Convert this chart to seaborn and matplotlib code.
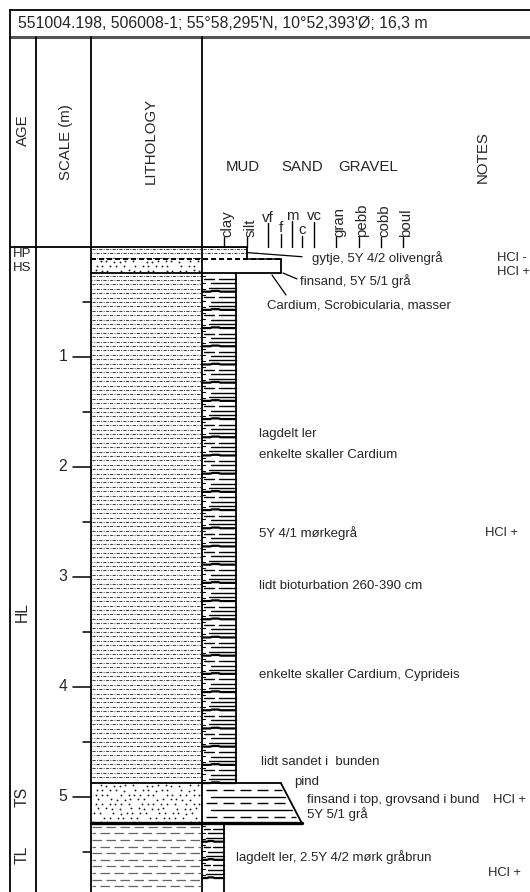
import numpy as np
import matplotlib
matplotlib.use("Agg")
import matplotlib.pyplot as plt
import seaborn as sns

sns.set_theme(style="white")
plt.rcParams["font.family"] = ["Liberation Sans", "DejaVu Sans"]
plt.rcParams["lines.scale_dashes"] = False

# ---------------------------------------------------------------- data
title = "551004.198, 506008-1; 55°58,295'N, 10°52,393'Ø; 16,3 m"

# grain-size classes and their tick positions across the log panel
grain_classes = ["clay", "silt", "vf", "f", "m", "c", "vc", "gran", "pebb", "cobb", "boul"]
grain_x = [224, 247, 268, 281, 292, 302, 314, 336, 359, 381, 403]
grain_rotated = [True, True, False, False, False, False, False, True, True, True, True]

# layers: top / base depth (m), lithology, grain size at top and base (class index)
layer_top = [0.00, 0.115, 0.245, 4.88, 5.245]
layer_base = [0.115, 0.245, 4.88, 5.245, 5.87]
layer_litho = ["gytje", "sand", "silty clay", "sand", "clay"]
layer_grain_top = [1.0, 3.0, 0.5, 3.0, 0.0]
layer_grain_base = [1.0, 3.0, 0.5, 5.0, 0.0]

# age units
age_labels = ["HP", "HS", "HL", "TS", "TL"]
age_depth = [0.068, 0.195, 3.32, 5.0, 5.53]
age_rotated = [False, False, True, True, True]

# depth scale
scale_major = [1, 2, 3, 4, 5]
scale_minor = [0.5, 1.5, 2.5, 3.5, 4.5, 5.5]

# descriptions (text, x, depth)
desc_text = ["gytje, 5Y 4/2 olivengrå", "finsand, 5Y 5/1 grå",
             "Cardium, Scrobicularia, masser", "lagdelt ler",
             "enkelte skaller Cardium", "5Y 4/1 mørkegrå",
             "lidt bioturbation 260-390 cm", "enkelte skaller Cardium, Cyprideis",
             "lidt sandet i  bunden", "pind", "finsand i top, grovsand i bund",
             "5Y 5/1 grå", "lagdelt ler, 2.5Y 4/2 mørk gråbrun"]
desc_x = [312, 300, 267, 259, 259, 259, 259, 259, 261, 294, 307, 307, 236]
desc_depth = [0.108, 0.31, 0.54, 1.70, 1.895, 2.605, 3.086, 3.895, 4.686,
              4.866, 5.032, 5.16, 5.55]

# leader lines (x0, depth0, x1, depth1)
leaders = [(248, 0.056, 302, 0.093), (283, 0.241, 297, 0.295), (272, 0.259, 286, 0.441)]

# notes column
notes_text = ["HCl -", "HCl +", "HCl +", "HCl +", "HCl +"]
notes_x = [497, 497, 485, 493, 488]
notes_depth = [0.105, 0.232, 2.605, 5.032, 5.695]

# ---------------------------------------------------------------- layout
W, H = 530, 892
TOP_LOG = 246.5
PX_PER_M = 110.0
COL_AGE, COL_SCALE, COL_LITH, COL_GRAIN = 10, 35.5, 91, 202
FS_HEAD = 10.8
FS_TITLE = 11.4
FS_TXT = 9.5
FS_GRAIN = 10.8
FS_NOTE = 9.4

fig = plt.figure(figsize=(W / 100, H / 100), dpi=100)
bg = fig.add_axes([0, 0, 1, 1])
bg.set_xlim(0, W)
bg.set_ylim(H, 0)
bg.axis("off")

log_frac = (H - TOP_LOG) / H
ax = fig.add_axes([0, 0, 1, log_frac])
dmax = (H - TOP_LOG) / PX_PER_M
ax.set_xlim(0, W)
ax.set_ylim(dmax, 0)
ax.axis("off")

K = "black"
# frame and title row
bg.plot([COL_AGE, W], [10, 10], color=K, lw=1.3)
bg.plot([COL_AGE, W], [36.5, 36.5], color="#555555", lw=2.2)
bg.plot([COL_AGE, COL_AGE], [10, H], color=K, lw=1.3)
for xc in (COL_SCALE, COL_LITH, COL_GRAIN):
    bg.plot([xc, xc], [36.5, H], color=K, lw=1.3)
bg.plot([COL_AGE, grain_x[1]], [TOP_LOG, TOP_LOG], color=K, lw=1.3)
bg.text(18, 23.5, title, fontsize=FS_TITLE, va="center", ha="left")

# column headers
bg.text(22.5, 130, "AGE", rotation=90, fontsize=FS_HEAD, ha="center", va="center")
bg.text(66, 142, "SCALE (m)", rotation=90, fontsize=FS_HEAD, ha="center", va="center")
bg.text(151, 141, "LITHOLOGY", rotation=90, fontsize=FS_HEAD, ha="center", va="center")
bg.text(483, 157, "NOTES", rotation=90, fontsize=FS_HEAD, ha="center", va="center")
for lab, xc in zip(["MUD", "SAND", "GRAVEL"], [242.5, 302, 368]):
    bg.text(xc, 167, lab, fontsize=FS_HEAD, ha="center", va="center")

# grain-size ticks
upright_y = {"vf": 217, "f": 228, "m": 215, "c": 230, "vc": 216}
for name, xg, rot in zip(grain_classes, grain_x, grain_rotated):
    if rot:
        bg.plot([xg, xg], [237, TOP_LOG], color=K, lw=1.0)
        bg.text(xg + 3.5, 237, name, rotation=90, fontsize=FS_GRAIN, ha="center", va="bottom")
    else:
        ty = upright_y[name]
        bg.plot([xg, xg], [ty + 6, TOP_LOG], color=K, lw=1.0)
        bg.text(xg, ty + 7.5, name, fontsize=FS_GRAIN, ha="center", va="bottom")


def gx(g):
    return float(np.interp(g, np.arange(len(grain_x)), grain_x))


# ---------------------------------------------------------------- patterns
def px2pt(v):
    return v * 0.72


def dashed_rows(x0, x1, d0, d1, step, dash, color, lw, shift):
    rows = np.arange(d0 + step / 2, d1, step)
    for i, r in enumerate(rows):
        off = px2pt(shift * (i % 2))
        ax.plot([x0, x1], [r, r], color=color, lw=lw,
                linestyle=(off, tuple(px2pt(v) for v in dash)), solid_capstyle="butt",
                dash_capstyle="butt")


def dotted_fill(x0, x1, d0, d1, step_px=4.6, col_px=6.5):
    xs, ys = [], []
    rows = np.arange(d0 + step_px / PX_PER_M / 2, d1, step_px / PX_PER_M)
    shifts = [0.0, 3.3, 1.6, 4.9, 2.4, 5.6, 0.8, 4.1]
    for i, r in enumerate(rows):
        xx = np.arange(x0 + 1.5 + shifts[i % len(shifts)], x1 - 1, col_px)
        for j, xv in enumerate(xx):
            if (i * 3 + j * 5) % 7 == 0:
                continue
            xs.append(xv + ((i * 7 + j * 3) % 5 - 2) * 0.5)
            ys.append(r + ((i * 5 + j * 11) % 5 - 2) * 0.15 / PX_PER_M)
    sns.scatterplot(x=xs, y=ys, ax=ax, s=1.8, color="#222222", linewidth=0,
                    marker="o", legend=False, zorder=2)


def lamination(x0, x1, d0, d1, band_px, zorder=3):
    band = band_px / PX_PER_M
    edges = np.arange(d0, d1 + 1e-9, band)
    for t in edges[:-1]:
        b = t + band
        if b > d1 + 1e-6:
            b = d1
        h = b - t
        w = x1 - x0
        y1 = t + 0.3 * h
        if y1 < d1:
            ax.plot([x0 + 2, x0 + 0.35 * w], [y1, y1], color=K, lw=1.0, zorder=zorder)
            ax.plot([x0 + 0.5 * w, x1], [y1, y1], color=K, lw=1.0, zorder=zorder)
        y2 = t + 0.55 * h
        if y2 < d1:
            ax.plot([x0 + 0.28 * w, x1], [y2, y2], color=K, lw=1.0, zorder=zorder)
        y3 = t + 0.78 * h
        if y3 < d1:
            ax.plot([x0 + 0.2 * w, x1], [y3, y3], color=K, lw=1.0, zorder=zorder)
        if b < d1 - 1e-6:
            ax.plot([x0, x0 + 0.25 * w, x0 + 0.3 * w, x0 + 0.5 * w, x0 + 0.55 * w, x1],
                    [b, b, b - 0.006, b - 0.006, b, b], color=K, lw=1.6, zorder=zorder)
        # small ticks on the left edge
        for k in range(3):
            yy = t + (k + 0.5) * h / 3
            if yy < d1:
                ax.plot([x0, x0 + 2.5], [yy, yy], color=K, lw=0.8, zorder=zorder)


# lithology column
for top, base, lith in zip(layer_top, layer_base, layer_litho):
    x0, x1 = COL_LITH + 1, COL_GRAIN - 1
    if lith in ("gytje", "silty clay"):
        dashed_rows(x0, x1, top, base, 4.4 / PX_PER_M, (3.2, 1.3, 0.9, 1.3),
                    "#444444", 0.75, 2.6)
    elif lith == "sand":
        dotted_fill(x0, x1, top, base)
    elif lith == "clay":
        dashed_rows(x0, x1, top, base, 6.6 / PX_PER_M, (9.5, 4.5), "#666666", 0.9, 6.0)

# layer boundaries across lithology and grain-size columns
ax.plot([COL_LITH, gx(layer_grain_top[1])], [layer_top[1]] * 2, color=K, lw=1.4,
        linestyle=(0, (px2pt(5), px2pt(3))))
ax.plot([gx(layer_grain_base[0]), gx(layer_grain_top[1])], [layer_top[1]] * 2, color=K, lw=1.1)
ax.plot([COL_LITH, gx(layer_grain_top[1])], [layer_base[1]] * 2, color=K, lw=1.3)
ax.plot([COL_LITH, gx(layer_grain_top[3])], [layer_top[3]] * 2, color=K, lw=1.3)
ax.plot([COL_LITH, gx(layer_grain_base[3])], [layer_base[3]] * 2, color=K, lw=2.4, zorder=4)

# grain-size column outlines
for i, (top, base) in enumerate(zip(layer_top, layer_base)):
    ax.plot([gx(layer_grain_top[i]), gx(layer_grain_base[i])], [top, base], color=K, lw=1.3,
            zorder=4)
ax.plot([COL_GRAIN, gx(layer_grain_top[0])], [0, 0], color=K, lw=1.3)

# grain-size column fills
dashed_rows(COL_GRAIN + 1, gx(layer_grain_top[0]) - 1, layer_top[0], layer_base[0] - 0.03,
            4.4 / PX_PER_M, (3.2, 1.3, 0.9, 1.3), "#444444", 0.75, 2.6)
lamination(COL_GRAIN, gx(layer_grain_top[2]), layer_top[2], layer_base[2], 18.2)
lamination(COL_GRAIN, gx(layer_grain_top[4]), layer_top[4], layer_base[4], 18.2)

# graded sand bed: alternating solid and dashed laminae inside the trapezoid
ts_rows = np.linspace(layer_top[3], layer_base[3], 7)[1:-1]
for i, r in enumerate(ts_rows):
    frac = (r - layer_top[3]) / (layer_base[3] - layer_top[3])
    xr = gx(layer_grain_top[3] + frac * (layer_grain_base[3] - layer_grain_top[3])) - 3
    if i % 2 == 0:
        ax.plot([COL_GRAIN + 4, xr], [r, r], color=K, lw=1.0,
                linestyle=(0, (px2pt(11), px2pt(6))))
    else:
        ax.plot([COL_GRAIN + 9, xr], [r, r], color=K, lw=1.0)

# depth scale
for d in scale_major:
    ax.plot([73, COL_LITH], [d, d], color=K, lw=1.1)
    ax.text(63, d, str(d), fontsize=FS_HEAD + 0.5, ha="center", va="center")
for d in scale_minor:
    if d < dmax:
        ax.plot([83, COL_LITH], [d, d], color=K, lw=1.1)

# age labels
for lab, d, rot in zip(age_labels, age_depth, age_rotated):
    if rot:
        ax.text(22.5, d, lab, rotation=90, fontsize=FS_HEAD + 0.5, ha="center", va="center")
    else:
        ax.text(13, d, lab, fontsize=FS_TXT, ha="left", va="center")

# descriptions, leaders and notes
for t, xv, d in zip(desc_text, desc_x, desc_depth):
    ax.text(xv, d, t, fontsize=FS_TXT, ha="left", va="center")
for x0, d0, x1, d1 in leaders:
    ax.plot([x0, x1], [d0, d1], color=K, lw=0.9)
for t, xv, d in zip(notes_text, notes_x, notes_depth):
    ax.text(xv, d, t, fontsize=FS_NOTE, ha="left", va="center")

fig.savefig("out.png", dpi=100)
